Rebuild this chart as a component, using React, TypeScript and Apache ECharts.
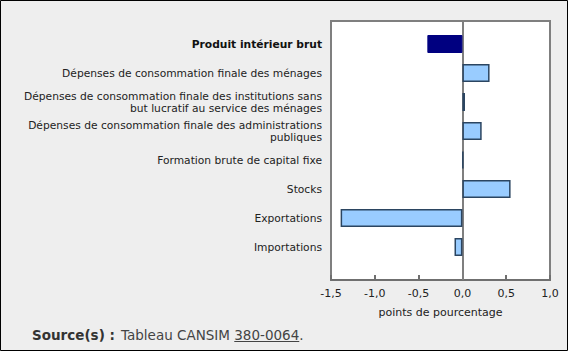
import React, { useEffect, useRef } from "react";
import * as echarts from "echarts";

const categories: string[] = [
  "Produit intérieur brut",
  "Dépenses de consommation finale des ménages",
  "Dépenses de consommation finale des institutions sans\nbut lucratif au service des ménages",
  "Dépenses de consommation finale des administrations\npubliques",
  "Formation brute de capital fixe",
  "Stocks",
  "Exportations",
  "Importations",
];
const values: number[] = [-0.4, 0.31, 0.03, 0.22, 0.01, 0.55, -1.39, -0.09];
const xTicks: number[] = [-1.5, -1.0, -0.5, 0.0, 0.5, 1.0];
const axisTitle = "points de pourcentage";
const sourceLabel = "Source(s) :";
const sourceText = "Tableau CANSIM ";
const sourceLink = "380-0064";

const FONT = "DejaVu Sans";

function measure(text: string, font: string): number {
  const c = document.createElement("canvas").getContext("2d");
  if (!c) return text.length * 7;
  c.font = font;
  return c.measureText(text).width;
}

export default function App() {
  const ref = useRef<HTMLDivElement>(null);
  useEffect(() => {
    document.body.style.margin = "0";
    const chart = echarts.init(ref.current!, null, { renderer: "svg" });
    const xMin = xTicks[0];
    const xMax = xTicks[xTicks.length - 1];
    const fmt = (v: number) => v.toFixed(1).replace(".", ",");
    const srcFont = `13.5px "${FONT}"`;
    const srcX = 121;
    const linkStart = srcX + measure(sourceText, srcFont);
    const linkEnd = linkStart + measure(sourceLink, srcFont);
    chart.setOption({
      animation: false,
      backgroundColor: "#eeeeee",
      textStyle: { fontFamily: FONT },
      grid: [
        { left: 331, right: 18, top: 21, bottom: 71, show: true, backgroundColor: "#ffffff", borderColor: "#7f7f7f", borderWidth: 2, containLabel: false },
        { left: 331, right: 18, top: 29.5, bottom: 89.5, containLabel: false },
      ],
      xAxis: [
        {
          gridIndex: 0,
          type: "value",
          min: xMin,
          max: xMax,
          interval: 0.5,
          axisLine: { show: true, lineStyle: { color: "#6f6f6f", width: 2 } },
          axisTick: { show: true, inside: true, length: 5, lineStyle: { color: "#6f6f6f", width: 2 } },
          splitLine: { show: false },
          axisLabel: { color: "#222", fontSize: 11, fontFamily: FONT, margin: 8, formatter: (v: number) => fmt(v) },
          name: axisTitle,
          nameLocation: "middle",
          nameGap: 27,
          nameTextStyle: { color: "#222", fontSize: 11, fontFamily: FONT },
        },
        { gridIndex: 1, type: "value", min: xMin, max: xMax, interval: 0.5, show: false, splitLine: { show: false } },
      ],
      yAxis: [
        { gridIndex: 0, type: "value", min: 0, max: 1, show: false, splitLine: { show: false } },
        {
          gridIndex: 1,
          type: "category",
          inverse: true,
          data: categories,
          axisLine: { show: false },
          axisTick: { show: false },
          axisLabel: {
            color: "#222",
            fontSize: 10.7,
            fontFamily: FONT,
            margin: 9,
            align: "right",
            lineHeight: 12,
            formatter: (v: string, i: number) => (i === 0 ? `{b|${v}}` : v),
            rich: { b: { fontWeight: "bold", color: "#111", fontSize: 10.7, fontFamily: FONT } },
          },
        },
      ],
      series: [
        {
          type: "line",
          xAxisIndex: 0,
          yAxisIndex: 0,
          data: [],
          silent: true,
          markLine: {
            silent: true,
            symbol: "none",
            label: { show: false },
            lineStyle: { color: "#7f7f7f", width: 2, type: "solid" },
            data: [{ xAxis: 0 }],
          },
        },
        {
          type: "bar",
          xAxisIndex: 1,
          yAxisIndex: 1,
          barWidth: 18,
          z: 5,
          data: values.map((v, i) => ({
            value: v,
            itemStyle:
              i === 0
                ? { color: "#000080", borderColor: "#000080", borderWidth: 1 }
                : { color: "#99ccff", borderColor: "#2b4561", borderWidth: 1.5 },
          })),
        },
      ],
      graphic: [
        { type: "rect", shape: { x: 0.5, y: 0.5, width: 567, height: 350 }, style: { fill: "none", stroke: "#000", lineWidth: 1 }, silent: true },
        {
          type: "text",
          x: 32,
          y: 335,
          style: { text: sourceLabel, font: `bold 13.5px "${FONT}"`, fill: "#333", verticalAlign: "middle" },
        },
        {
          type: "text",
          x: srcX,
          y: 335,
          style: {
            text: `${sourceText}${sourceLink}.`,
            font: srcFont,
            fill: "#444",
            verticalAlign: "middle",
          },
        },
        { type: "line", shape: { x1: linkStart, y1: 341.5, x2: linkEnd, y2: 341.5 }, style: { stroke: "#444", lineWidth: 1 } },
      ],
    });
    return () => chart.dispose();
  }, []);
  return <div ref={ref} style={{ width: 568, height: 351 }} />;
}
